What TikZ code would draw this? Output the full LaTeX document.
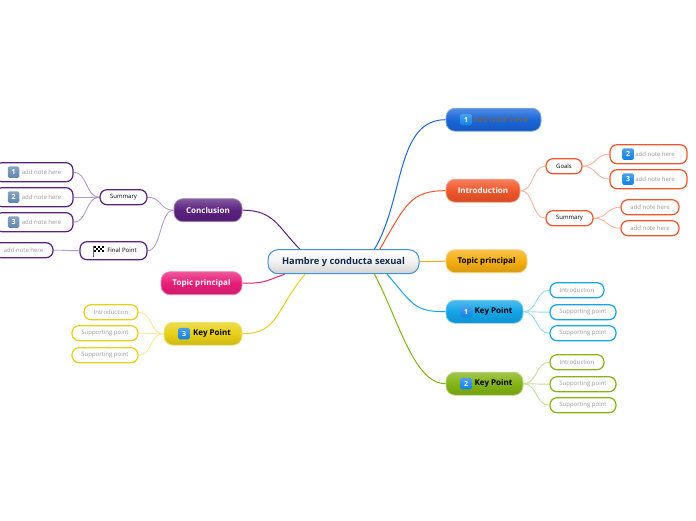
\documentclass[tikz,border=0pt]{standalone}
\usepackage{fontspec}
\setmainfont{Open Sans}
\usetikzlibrary{backgrounds}

\definecolor{rootblue}{HTML}{3F94D6}
\definecolor{navy}{HTML}{14284F}
\definecolor{royal}{HTML}{1A66D8}
\definecolor{coral}{HTML}{F0562A}
\definecolor{amber}{HTML}{F5AE12}
\definecolor{sky}{HTML}{12A5E8}
\definecolor{leaf}{HTML}{83B414}
\definecolor{plum}{HTML}{5A2180}
\definecolor{rose}{HTML}{E81E78}
\definecolor{lemon}{HTML}{E8D018}
\definecolor{notegray}{HTML}{9A9A9A}
\definecolor{badgeblue}{HTML}{0F80E6}
\definecolor{badgegray}{HTML}{5F86AC}

\tikzset{
  pill/.style={rounded corners=7pt,inner sep=0pt,minimum height=15pt},
  topicbox/.style={pill,draw=#1!55!white,line width=0.8pt,top color=#1!75!white,
    bottom color=#1!88!black,middle color=#1,rounded corners=9pt,minimum height=23pt,
    font=\bfseries\fontsize{8}{9}\selectfont},
  subbox/.style={pill,draw=#1,line width=1.2pt,fill=white,font=\fontsize{6}{7}\selectfont},
  notebox/.style={pill,draw=#1,line width=1.2pt,fill=white,text=notegray,font=\fontsize{6}{7}\selectfont},
  badge/.style={rounded corners=1.5pt,inner sep=0pt,minimum size=11.5pt,text=white,
    top color=#1!75!white,bottom color=#1,font=\bfseries\fontsize{7}{8}\selectfont},
  mainlink/.style={draw=#1,line width=1pt},
  leaflink/.style={draw=#1!45!white,line width=0.9pt},
}

\begin{document}
\begin{tikzpicture}[x=1pt,y=-1pt]
\useasboundingbox (0,-0.7) rectangle (696,519.3);
\node[pill,draw=rootblue,line width=1pt,top color=white,bottom color=black!18,middle color=black!5,
  rounded corners=10pt,minimum width=151,minimum height=24,text=navy,
  font=\bfseries\fontsize{9.3}{10}\selectfont] (root) at (343.5,261) {Hambre y conducta sexual};

% right side
\node[topicbox=royal,minimum width=95,text=black!60] (notes) at (493.5,119) {\hspace{14pt}add note here};
\node[badge=badgeblue] (notesnum) at (466,119) {1};
\node[topicbox=coral,minimum width=74,text=white] (intro) at (483,190) {Introduction};
\node[topicbox=amber,minimum width=81,text=black] (topicr) at (486.5,260.5) {Topic principal};
\node[topicbox=sky,minimum width=77,text=black] (keyone) at (484.5,311) {\hspace{18pt}Key Point};
\node[badge=badgeblue] (keyonenum) at (466,311) {1};
\node[topicbox=leaf,minimum width=77,text=black] (keytwo) at (484.5,383) {\hspace{18pt}Key Point};
\node[badge=badgeblue] (keytwonum) at (466,383) {2};

\node[subbox=coral,minimum width=36] (goals) at (564,165.5) {Goals};
\node[subbox=coral,minimum width=47] (sumr) at (569.5,217.5) {Summary};
\node[notebox=coral,minimum width=77,minimum height=19] (ntwo) at (648.5,153.5) {\hspace{13pt}add note here};
\node[badge=badgeblue] (ntwonum) at (628,153.5) {2};
\node[notebox=coral,minimum width=77,minimum height=19] (nthree) at (648.5,178.5) {\hspace{13pt}add note here};
\node[badge=badgeblue] (nthreenum) at (628,178.5) {3};
\node[notebox=coral,minimum width=58] (nfour) at (650,206.5) {add note here};
\node[notebox=coral,minimum width=58] (nfive) at (650,227.5) {add note here};

\node[notebox=sky,minimum width=54] (skyi) at (577,289.5) {Introduction};
\node[notebox=sky,minimum width=66] (skys) at (583,311.5) {Supporting point};
\node[notebox=sky,minimum width=66] (skyt) at (583,332.5) {Supporting point};
\node[notebox=leaf,minimum width=54] (leafi) at (577,361.5) {Introduction};
\node[notebox=leaf,minimum width=66] (leafs) at (583,383.5) {Supporting point};
\node[notebox=leaf,minimum width=66] (leaft) at (583,404.5) {Supporting point};

% left side
\node[topicbox=plum,minimum width=68,text=white] (concl) at (208,209.5) {Conclusion};
\node[topicbox=rose,minimum width=81,text=white] (topicl) at (201.5,282.5) {Topic principal};
\node[topicbox=lemon,minimum width=78,text=black] (keythree) at (203,333) {\hspace{18pt}Key Point};
\node[badge=badgeblue] (keythreenum) at (184,333) {3};

\node[subbox=plum,minimum width=47] (suml) at (123.5,196.5) {Summary};
\node[subbox=plum,minimum width=67,minimum height=18] (final) at (113.5,250) {\hspace{17pt}Final Point};
\node[notebox=plum,minimum width=78,minimum height=19] (pone) at (34,171.5) {\hspace{15pt}add note here};
\node[badge=badgegray] (ponenum) at (13.5,171.5) {1};
\node[notebox=plum,minimum width=78,minimum height=19] (ptwo) at (34,196.5) {\hspace{15pt}add note here};
\node[badge=badgegray] (ptwonum) at (13.5,196.5) {2};
\node[notebox=plum,minimum width=78,minimum height=19] (pthree) at (34,221.5) {\hspace{15pt}add note here};
\node[badge=badgegray] (pthreenum) at (13.5,221.5) {3};
\node[notebox=plum,minimum width=59] (pfour) at (23.5,249.5) {add note here};

\node[notebox=lemon,minimum width=54] (lemi) at (111,311.5) {Introduction};
\node[notebox=lemon,minimum width=66] (lems) at (105,332.5) {Supporting point};
\node[notebox=lemon,minimum width=66] (lemt) at (105,354.5) {Supporting point};

% checkered flag
\draw[black!60,line width=0.5pt] (93.5,245) -- (93.5,256);
\foreach \col in {0,...,4}
  \foreach \row in {0,1,2}{
    \pgfmathparse{int(mod(\col+\row,2))}
    \ifnum\pgfmathresult=0
      \fill (94+2*\col,245+2*\row) rectangle +(2,2);
    \fi
  }

\begin{pgfonlayer}{background}
\draw[mainlink=royal] (root.22.8) .. controls +(30,-50) and +(-50,0) .. (notes.west);
\draw[mainlink=coral] (root.19.2) .. controls +(26,-45) and +(-35,0) .. (intro.west);
\draw[mainlink=amber] (root.east) -- (topicr.west);
\draw[mainlink=sky] (root.-16.9) .. controls +(26,30) and +(-32,0) .. (keyone.west);
\draw[mainlink=leaf] (root.-22.8) .. controls +(24,45) and +(-32,0) .. (keytwo.west);
\draw[mainlink=plum] (concl.east) .. controls +(32,0) and +(-22,-22) .. (root.164.8);
\draw[mainlink=rose] (topicl.east) .. controls +(22,0) and +(-22,8) .. (root.192.5);
\draw[mainlink=lemon] (keythree.east) .. controls +(36,0) and +(-30,36) .. (root.198);
\foreach \src/\dst in {intro/goals,intro/sumr}
  \draw[leaflink=coral] (\src.east) .. controls +(14,0) and +(-14,0) .. (\dst.west);
\foreach \src/\dst in {goals/ntwo,goals/nthree,sumr/nfour,sumr/nfive}
  \draw[leaflink=coral] (\src.east) .. controls +(14,0) and +(-14,0) .. (\dst.west);
\foreach \src/\dst in {keyone/skyi,keyone/skys,keyone/skyt}
  \draw[leaflink=sky] (\src.east) .. controls +(14,0) and +(-14,0) .. (\dst.west);
\foreach \src/\dst in {keytwo/leafi,keytwo/leafs,keytwo/leaft}
  \draw[leaflink=leaf] (\src.east) .. controls +(14,0) and +(-14,0) .. (\dst.west);
\foreach \src/\dst in {concl/suml,concl/final,suml/pone,suml/ptwo,suml/pthree,final/pfour}
  \draw[leaflink=plum] (\src.west) .. controls +(-14,0) and +(14,0) .. (\dst.east);
\foreach \src/\dst in {keythree/lemi,keythree/lems,keythree/lemt}
  \draw[leaflink=lemon] (\src.west) .. controls +(-14,0) and +(14,0) .. (\dst.east);
\end{pgfonlayer}
\end{tikzpicture}
\end{document}
